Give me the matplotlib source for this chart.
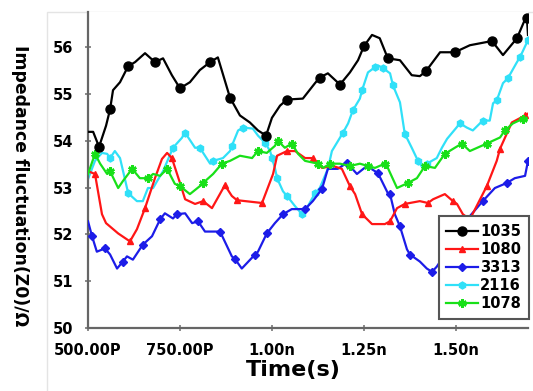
import matplotlib
matplotlib.use("Agg")
import matplotlib.pyplot as plt
from matplotlib.patches import Rectangle

# ---------------- data (time in ns, impedance in ohm) ----------------
t_1035 = [0.500, 0.514, 0.530, 0.549, 0.560, 0.568, 0.587, 0.609, 0.628, 0.655,
          0.682, 0.704, 0.728, 0.750, 0.777, 0.804, 0.832, 0.853, 0.886, 0.913,
          0.940, 0.962, 0.984, 1.000, 1.022, 1.041, 1.084, 1.117, 1.130, 1.152,
          1.185, 1.212, 1.234, 1.250, 1.272, 1.293, 1.315, 1.348, 1.380, 1.402,
          1.418, 1.457, 1.497, 1.538, 1.598, 1.628, 1.666, 1.685, 1.693, 1.696]
z_1035 = [54.19, 54.19, 53.87, 54.32, 54.67, 55.08, 55.25, 55.59, 55.68, 55.87,
          55.68, 55.76, 55.40, 55.12, 55.25, 55.51, 55.68, 55.78, 54.92, 54.54,
          54.39, 54.22, 54.11, 54.49, 54.75, 54.88, 54.90, 55.23, 55.35, 55.44,
          55.20, 55.46, 55.72, 56.02, 56.26, 56.19, 55.76, 55.72, 55.40, 55.38,
          55.48, 55.89, 55.89, 56.04, 56.13, 55.83, 56.19, 56.54, 56.62, 56.26]

t_1080 = [0.500, 0.519, 0.538, 0.549, 0.582, 0.614, 0.633, 0.655, 0.682, 0.701,
          0.715, 0.728, 0.750, 0.764, 0.791, 0.813, 0.837, 0.872, 0.891, 0.905,
          0.973, 1.003, 1.014, 1.041, 1.063, 1.090, 1.111, 1.136, 1.166, 1.190,
          1.212, 1.226, 1.245, 1.272, 1.307, 1.321, 1.340, 1.361, 1.402, 1.424,
          1.438, 1.470, 1.492, 1.503, 1.519, 1.538, 1.584, 1.611, 1.620, 1.652,
          1.688, 1.696]
z_1080 = [53.35, 53.29, 52.43, 52.24, 52.02, 51.85, 52.11, 52.56, 53.20, 53.61,
          53.74, 53.63, 53.10, 52.75, 52.65, 52.71, 52.56, 53.05, 52.82, 52.73,
          52.67, 53.29, 53.68, 53.78, 53.78, 53.63, 53.63, 53.42, 53.46, 53.40,
          53.03, 52.86, 52.43, 52.22, 52.22, 52.28, 52.56, 52.65, 52.71, 52.67,
          52.75, 52.86, 52.71, 52.65, 52.43, 52.32, 53.03, 53.57, 53.83, 54.39,
          54.54, 54.58]

t_3313 = [0.500, 0.511, 0.524, 0.546, 0.560, 0.579, 0.595, 0.606, 0.622, 0.649,
          0.674, 0.696, 0.709, 0.731, 0.742, 0.764, 0.783, 0.799, 0.818, 0.859,
          0.891, 0.899, 0.918, 0.954, 0.962, 0.986, 1.008, 1.030, 1.054, 1.090,
          1.111, 1.136, 1.152, 1.179, 1.204, 1.231, 1.258, 1.288, 1.315, 1.321,
          1.334, 1.348, 1.367, 1.375, 1.402, 1.421, 1.435, 1.448, 1.484, 1.516,
          1.538, 1.573, 1.606, 1.639, 1.660, 1.688, 1.696]
z_3313 = [52.28, 51.96, 51.63, 51.70, 51.57, 51.27, 51.42, 51.53, 51.46, 51.78,
          51.96, 52.32, 52.45, 52.34, 52.43, 52.45, 52.24, 52.28, 52.06, 52.06,
          51.53, 51.48, 51.27, 51.57, 51.63, 52.02, 52.24, 52.43, 52.54, 52.54,
          52.71, 52.97, 53.40, 53.40, 53.53, 53.29, 53.46, 53.31, 52.88, 52.86,
          52.43, 52.17, 51.68, 51.57, 51.42, 51.27, 51.20, 51.31, 51.74, 52.11,
          52.39, 52.71, 52.99, 53.10, 53.20, 53.25, 53.57]

t_2116 = [0.500, 0.519, 0.538, 0.552, 0.560, 0.573, 0.587, 0.606, 0.609, 0.633,
          0.649, 0.663, 0.677, 0.688, 0.704, 0.731, 0.755, 0.764, 0.791, 0.804,
          0.832, 0.840, 0.867, 0.886, 0.891, 0.908, 0.921, 0.948, 0.962, 0.981,
          0.995, 1.000, 1.008, 1.014, 1.030, 1.041, 1.063, 1.082, 1.090, 1.117,
          1.130, 1.152, 1.163, 1.193, 1.207, 1.220, 1.239, 1.245, 1.261, 1.280,
          1.288, 1.302, 1.321, 1.329, 1.348, 1.361, 1.380, 1.397, 1.410, 1.421,
          1.448, 1.462, 1.476, 1.511, 1.530, 1.546, 1.573, 1.592, 1.601, 1.611,
          1.628, 1.641, 1.666, 1.674, 1.696]
z_2116 = [53.18, 53.57, 53.74, 53.72, 53.63, 53.78, 53.63, 52.99, 52.88, 52.71,
          52.71, 52.99, 52.99, 53.14, 53.35, 53.85, 54.06, 54.17, 53.85, 53.85,
          53.51, 53.57, 53.63, 53.78, 53.89, 54.22, 54.28, 54.26, 54.11, 53.96,
          53.78, 53.63, 53.42, 53.20, 52.92, 52.82, 52.60, 52.43, 52.49, 52.88,
          52.99, 53.40, 53.78, 54.17, 54.37, 54.65, 54.90, 55.08, 55.46, 55.57,
          55.61, 55.55, 55.44, 55.18, 54.82, 54.15, 53.85, 53.57, 53.42, 53.51,
          53.63, 53.85, 54.04, 54.37, 54.28, 54.22, 54.43, 54.43, 54.80, 54.86,
          55.23, 55.33, 55.68, 55.78, 56.15]

t_1078 = [0.500, 0.519, 0.533, 0.552, 0.560, 0.582, 0.595, 0.620, 0.641, 0.663,
          0.677, 0.696, 0.715, 0.736, 0.750, 0.777, 0.804, 0.813, 0.840, 0.864,
          0.886, 0.913, 0.946, 0.962, 0.986, 1.008, 1.016, 1.035, 1.054, 1.071,
          1.090, 1.125, 1.139, 1.158, 1.185, 1.212, 1.239, 1.261, 1.280, 1.307,
          1.315, 1.340, 1.370, 1.394, 1.416, 1.443, 1.470, 1.516, 1.538, 1.584,
          1.620, 1.633, 1.655, 1.682, 1.696]
z_1078 = [53.29, 53.72, 53.51, 53.29, 53.35, 52.99, 53.14, 53.40, 53.20, 53.20,
          53.29, 53.25, 53.40, 53.08, 53.03, 52.86, 53.03, 53.10, 53.29, 53.51,
          53.57, 53.68, 53.63, 53.78, 53.74, 53.89, 54.00, 53.85, 53.94, 53.72,
          53.57, 53.51, 53.42, 53.51, 53.51, 53.46, 53.51, 53.46, 53.42, 53.51,
          53.42, 52.99, 53.10, 53.20, 53.46, 53.42, 53.72, 53.94, 53.78, 53.94,
          54.07, 54.22, 54.37, 54.47, 54.47]

x_ticks = [0.50, 0.75, 1.00, 1.25, 1.50]
x_tick_labels = ["500.00P", "750.00P", "1.00n", "1.25n", "1.50n"]
y_ticks = [50, 51, 52, 53, 54, 55, 56]
series_labels = ["1035", "1080", "3313", "2116", "1078"]

# marker positions (indices into each series)
mk_1035 = [2, 4, 7, 10, 13, 16, 18, 22, 25, 28, 30, 33, 36, 40, 42, 44, 46, 48]
mk_1080 = [1, 5, 7, 11, 15, 17, 19, 20, 23, 26, 30, 32, 35, 37, 39, 42, 46, 48, 50]
mk_3313 = [1, 3, 6, 9, 11, 14, 17, 19, 21, 23, 25, 27, 29, 31, 34, 37, 39, 41, 43, 46, 51, 53, 56]
mk_2116 = [4, 8, 15, 17, 19, 21, 24, 26, 29, 31, 33, 35, 37, 39, 43, 45, 47, 49, 51, 53,
           55, 57, 59, 63, 66, 69, 71, 73, 74]
mk_1078 = [1, 4, 7, 9, 12, 14, 17, 19, 23, 26, 28, 31, 33, 35, 37, 39, 42, 44, 46, 47, 49, 51, 53]

# ---------------- figure ----------------
fig = plt.figure(figsize=(5.33, 3.91), dpi=100)
ax = fig.add_axes([88/533, 1-328/391, 440/533, 316/391])

fig.add_artist(Rectangle((47/533, -0.01), 1.0, 1-12/391 + 0.01, transform=fig.transFigure,
                         fill=False, edgecolor="#e4e4e4", linewidth=1.0, zorder=0))

lw = 1.6
ax.plot(t_2116, z_2116, color="#30e0f8", lw=lw, marker="h", ms=5, markevery=mk_2116, label="2116", zorder=2)
ax.plot(t_3313, z_3313, color="#1c1ce8", lw=lw, marker="D", ms=4, markevery=mk_3313, label="3313", zorder=3)
ax.plot(t_1080, z_1080, color="#ff1616", lw=lw, marker="^", ms=5, markevery=mk_1080, label="1080", zorder=4)
ax.plot(t_1078, z_1078, color="#18e018", lw=lw, marker=(6, 2, 0), ms=6, mew=1.8,
        markevery=mk_1078, label="1078", zorder=5)
ax.plot(t_1035, z_1035, color="#000000", lw=lw, marker="o", ms=6.5, markevery=mk_1035, label="1035", zorder=6)

ax.set_xlim(0.5, 1.696)
ax.set_ylim(50, 56.75)
ax.set_xticks(x_ticks)
ax.set_xticklabels(x_tick_labels)
ax.set_yticks(y_ticks)

for s in ["top", "right"]:
    ax.spines[s].set_visible(False)
for s in ["left", "bottom"]:
    ax.spines[s].set_color("#666666")
    ax.spines[s].set_linewidth(1.6)

ax.tick_params(axis="both", direction="inout", length=5, width=1.2, color="#777777")
ax.tick_params(axis="y", pad=8)
ax.tick_params(axis="x", pad=8)
for lab in ax.get_xticklabels() + ax.get_yticklabels():
    lab.set_fontweight("bold")
    lab.set_fontsize(10.5)

ax.set_ylabel("Impedance fluctuation(Z0)/Ω", fontsize=12.4, fontweight="bold", rotation=270,
              va="center", ha="center")
ax.yaxis.set_label_coords(-0.155, 0.45)
ax.set_xlabel("Time(s)", fontsize=16, fontweight="bold", va="top")
ax.xaxis.set_label_coords(0.466, -0.10)

handles, labels = ax.get_legend_handles_labels()
order = [labels.index(l) for l in series_labels]
leg = ax.legend([handles[i] for i in order], [labels[i] for i in order],
                loc="lower right", bbox_to_anchor=(1.008, 0.02), fancybox=False,
                framealpha=1, edgecolor="#555555", handlelength=2.2, handletextpad=0.15,
                labelspacing=0.22, borderpad=0.5, borderaxespad=0.2,
                prop={"weight": "bold", "size": 10.5})
leg.get_frame().set_linewidth(1.5)

fig.savefig("out.png", dpi=100)
